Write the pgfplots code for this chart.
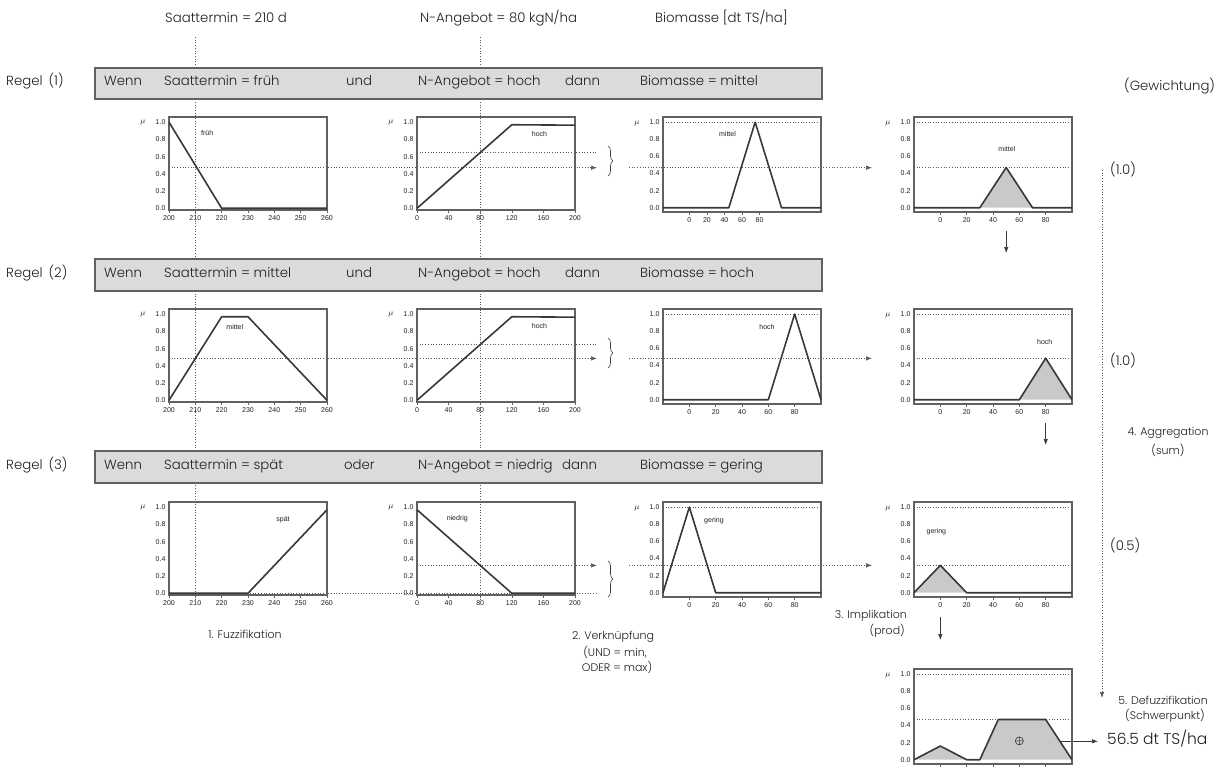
\documentclass[border=0pt]{standalone}
\usepackage{fontspec}
\setmainfont{Poppins}[UprightFont={* Light}]
\newfontfamily\ticksf{Liberation Sans}
\usepackage{pgfplots}
\pgfplotsset{compat=1.18}
\usetikzlibrary{arrows.meta,decorations.pathreplacing}

\definecolor{frm}{gray}{0.38}
\definecolor{cvc}{gray}{0.22}
\definecolor{fillg}{gray}{0.79}
\definecolor{boxf}{gray}{0.86}
\definecolor{dotc}{gray}{0.35}
\definecolor{txt}{gray}{0.12}

\newcommand\tk{\fontsize{7}{8}\selectfont\ticksf}
\newcommand\bt{\fontsize{13.3}{15}\selectfont}
\newcommand\mt{\fontsize{11}{13}\selectfont}

\tikzset{
 cvp/.style={draw=cvc, line width=1.6pt, line join=round},
 dl/.style={draw=dotc, dotted, line width=0.7pt},
 lbl/.style={font=\tk, text=txt},
 tx/.style={font=\bt, text=txt, inner sep=0pt, anchor=mid west},
 tm/.style={font=\mt, text=txt, inner sep=0pt},
 arr/.style={-{Latex[length=6pt,width=4.5pt]}},
}

\pgfplotsset{
 fz/.style={
  scale only axis, width=158pt, height=93pt, anchor=north west,
  ymin=-0.02, ymax=1.06,
  ytick={0,0.2,0.4,0.6,0.8,1.0},
  /pgf/number format/assume math mode=true,
  ticklabel style={font=\tk, text=txt},
  yticklabel style={/pgf/number format/fixed,/pgf/number format/fixed zerofill,/pgf/number format/precision=1, xshift=2.5pt},
  xticklabel style={/pgf/number format/fixed},
  axis line style={draw=frm, line width=1.1pt},
  tick pos=left, tick align=outside, major tick length=2.5pt,
  tick style={draw=frm, line width=0.5pt},
  ytick style={draw=none},
  clip=false,
  extra description/.code={\node[font=\fontsize{8.5}{9}\selectfont, text=txt] at ([xshift=-26pt]axis description cs:0,0.935) {$\mu$};},
 },
 fzA/.style={fz, xmin=200, xmax=260, xtick={200,210,...,260}},
 fzB/.style={fz, xmin=0, xmax=200, xtick={0,40,...,200}},
 fzC/.style={fz, height=95pt, ymin=-0.05, xmin=-20, xmax=100, xtick={0,20,...,80}},
}

\begin{document}
\begin{tikzpicture}
\useasboundingbox (0,0) rectangle (1221pt,-771pt);
\begin{scope}[x=1pt,y=-1pt]
 % guide lines
 \draw[dl] (195.3,37) -- (195.3,601);
 \draw[dl] (480.2,37) -- (480.2,601);
 % rule boxes
 \draw[draw=frm, fill=boxf, line width=1.2pt] (95,68) rectangle (822,99);
 \draw[draw=frm, fill=boxf, line width=1.2pt] (95,259) rectangle (822,291);
 \draw[draw=frm, fill=boxf, line width=1.2pt] (95,451) rectangle (822,483);
 % top labels
 \node[tx] at (165,20) {Saattermin = 210 d};
 \node[tx] at (420,20) {N-Angebot = 80 kgN/ha};
 \node[tx] at (655,20) {Biomasse [dt TS/ha]};
 % rule 1
 \node[tx] at (6,83) {Regel\hspace{6pt}(1)};
 \node[tx] at (104,83) {Wenn};
 \node[tx] at (164,83) {Saattermin = früh};
 \node[tx] at (346,83) {und};
 \node[tx] at (418,83) {N-Angebot = hoch};
 \node[tx] at (565,83) {dann};
 \node[tx] at (640,83) {Biomasse = mittel};
 % rule 2
 \node[tx] at (6,275) {Regel\hspace{6pt}(2)};
 \node[tx] at (104,275) {Wenn};
 \node[tx] at (164,275) {Saattermin = mittel};
 \node[tx] at (346,275) {und};
 \node[tx] at (418,275) {N-Angebot = hoch};
 \node[tx] at (565,275) {dann};
 \node[tx] at (640,275) {Biomasse = hoch};
 % rule 3
 \node[tx] at (6,467) {Regel\hspace{6pt}(3)};
 \node[tx] at (104,467) {Wenn};
 \node[tx] at (164,467) {Saattermin = spät};
 \node[tx] at (344,467) {oder};
 \node[tx] at (418,467) {N-Angebot = niedrig};
 \node[tx] at (562,467) {dann};
 \node[tx] at (640,467) {Biomasse = gering};
 % right column
 \node[tx] at (1124,88) {(Gewichtung)};
 \node[tx] at (1110,172) {(1.0)};
 \node[tx] at (1110,363) {(1.0)};
 \node[tx] at (1110,548) {(0.5)};
 \node[tm] at (1168,433) {4. Aggregation};
 \node[tm] at (1168,450) {(sum)};
 \node[tm] at (1163,700) {5. Defuzzifikation};
 \node[tm] at (1165,716) {(Schwerpunkt)};
 \node[tx, font=\fontsize{15.5}{17}\selectfont] at (1107,742) {56.5 dt TS/ha};
 % bottom labels
 \node[tm] at (245,634) {1. Fuzzifikation};
 \node[tm] at (613,637) {2. Verknüpfung};
 \node[tm] at (615,652) {(UND = min,};
 \node[tm] at (617,667) {ODER = max)};
 \node[tm, anchor=mid east] at (907,616) {3. Implikation};
 \node[tm, anchor=mid east] at (905,632) {(prod)};
 % horizontal dotted lines, braces
 \draw[dl, arr] (169,167.7) -- (597,167.7);
 \draw[dl] (417,152.6) -- (597,152.6);
 \draw[draw=cvc, line width=0.6pt, decorate, decoration={brace, amplitude=5pt}] (608,146) -- (608,176);
 \draw[dl, arr] (629,167.7) -- (872,167.7);
 \draw[dl, arr] (169,358.4) -- (597,358.4);
 \draw[dl] (417,344.6) -- (597,344.6);
 \draw[draw=cvc, line width=0.6pt, decorate, decoration={brace, amplitude=5pt}] (608,338) -- (608,368);
 \draw[dl, arr] (629,358.4) -- (872,358.4);
 \draw[dl, arr] (417,565.4) -- (597,565.4);
 \draw[dl] (169,593.3) -- (597,593.3);
 \draw[draw=cvc, line width=0.6pt, decorate, decoration={brace, amplitude=5pt}] (608,561) -- (608,597);
 \draw[dl, arr] (629,565.4) -- (872,565.4);
 % solid arrows
 \draw[draw=cvc, line width=0.7pt, arr] (1006.2,231) -- (1006.2,253);
 \draw[draw=cvc, line width=0.7pt, arr] (1045.7,423) -- (1045.7,445);
 \draw[draw=cvc, line width=0.7pt, arr] (940.3,617) -- (940.3,640);
 \draw[dl, arr] (1102,170) -- (1102,698);
 \draw[draw=cvc, line width=0.7pt, arr] (1027,741.3) -- (1098,741.3);
\end{scope}

% ---------- Row 1 ----------
\begin{axis}[fzA, at={(169pt,-117pt)}]
\addplot[cvp] coordinates {(200,1) (220,0) (260,0)};
\node[lbl] at (axis cs:214.5,0.87) {früh};
\end{axis}
\begin{axis}[fzB, at={(417pt,-117pt)}]
\addplot[cvp] coordinates {(0,0) (120,0.97) (200,0.965)};
\node[lbl] at (axis cs:155,0.86) {hoch};
\end{axis}
\begin{axis}[fzC, at={(663pt,-117pt)}, xtick={0,13.33,26.67,40,53.33}, xticklabels={0,20,40,60,80}]
\addplot[dl] coordinates {(-20,1) (100,1)};
\addplot[cvp] coordinates {(-20,0) (30,0) (50,1) (70,0) (100,0)};
\node[lbl] at (axis cs:29,0.86) {mittel};
\end{axis}
\begin{axis}[fzC, at={(914pt,-117pt)}]
\addplot[dl] coordinates {(-20,1) (100,1)};
\addplot[dl] coordinates {(-20,0.47) (100,0.47)};
\addplot[cvp, fill=fillg] coordinates {(-20,0) (30,0) (50,0.47) (70,0) (100,0)};
\node[lbl] at (axis cs:50.5,0.69) {mittel};
\end{axis}

% ---------- Row 2 ----------
\begin{axis}[fzA, at={(169pt,-309pt)}]
\addplot[cvp] coordinates {(200,0) (220,0.97) (230,0.97) (260,0)};
\node[lbl] at (axis cs:225,0.855) {mittel};
\end{axis}
\begin{axis}[fzB, at={(417pt,-309pt)}]
\addplot[cvp] coordinates {(0,0) (120,0.97) (200,0.965)};
\node[lbl] at (axis cs:155,0.86) {hoch};
\end{axis}
\begin{axis}[fzC, at={(663pt,-309pt)}, extra description/.code={}]
\addplot[dl] coordinates {(-20,1) (100,1)};
\addplot[cvp] coordinates {(-20,0) (60,0) (80,1) (100,0)};
\node[lbl] at (axis cs:59,0.855) {hoch};
\end{axis}
\begin{axis}[fzC, at={(914pt,-309pt)}]
\addplot[dl] coordinates {(-20,1) (100,1)};
\addplot[dl] coordinates {(-20,0.485) (100,0.485)};
\addplot[cvp, fill=fillg] coordinates {(-20,0) (60,0) (80,0.485) (100,0)};
\node[lbl] at (axis cs:79.3,0.68) {hoch};
\end{axis}

% ---------- Row 3 ----------
\begin{axis}[fzA, at={(169pt,-502pt)}]
\addplot[cvp] coordinates {(200,0) (230,0) (260,0.97)};
\node[lbl] at (axis cs:243.3,0.85) {spät};
\end{axis}
\begin{axis}[fzB, at={(417pt,-502pt)}]
\addplot[cvp] coordinates {(0,0.97) (120,0) (200,0)};
\node[lbl] at (axis cs:51,0.87) {niedrig};
\end{axis}
\begin{axis}[fzC, at={(663pt,-502pt)}]
\addplot[dl] coordinates {(-20,1) (100,1)};
\addplot[cvp] coordinates {(-20,0) (0,1) (20,0) (100,0)};
\node[lbl] at (axis cs:18.7,0.84) {gering};
\end{axis}
\begin{axis}[fzC, at={(914pt,-502pt)}]
\addplot[dl] coordinates {(-20,1) (100,1)};
\addplot[dl] coordinates {(-20,0.32) (100,0.32)};
\addplot[cvp, fill=fillg] coordinates {(-20,0) (0,0.32) (20,0) (100,0)};
\node[lbl] at (axis cs:-3,0.71) {gering};
\end{axis}

% ---------- Defuzzification ----------
\begin{axis}[fzC, at={(914pt,-669pt)}, xticklabels={}]
\addplot[dl] coordinates {(-20,1) (100,1)};
\addplot[dl] coordinates {(-20,0.47) (100,0.47)};
\addplot[cvp, fill=fillg] coordinates {(-20,0) (0,0.16) (20,0) (30,0) (44,0.47) (80,0.47) (100,0)};
\addplot[only marks, mark=oplus, mark size=4pt, mark options={draw=cvc, line width=0.6pt}] coordinates {(60,0.22)};
\end{axis}
\end{tikzpicture}
\end{document}
